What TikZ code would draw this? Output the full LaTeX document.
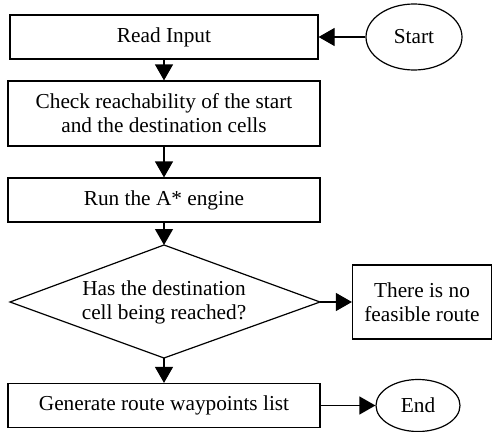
\documentclass[tikz,border=0pt]{standalone}
\usepackage{fontspec}
\setmainfont{Liberation Serif}
\usetikzlibrary{shapes.geometric,arrows.meta,positioning}
\begin{document}
\begin{tikzpicture}[x=1pt,y=-1pt,
  txt/.style={font=\fontsize{21.3}{24}\selectfont, align=center},
  boxnode/.style={draw, line width=1.2pt, inner sep=0pt, txt},
  oval/.style={draw, ellipse, line width=1.2pt, inner sep=0pt, txt},
  arr/.style={line width=1.2pt, -{Triangle[length=16pt,width=18pt]}}]
\useasboundingbox (0,0) rectangle (492,431);
\node[boxnode, minimum width=308pt, minimum height=44pt] (read) at (164,37) {Read Input};
\node[oval, minimum width=96pt, minimum height=66pt] (start) at (414,37) {Start};
\node[boxnode, minimum width=312pt, minimum height=65pt] (check) at (164,113.5) {Check reachability of the start\\and the destination cells};
\node[boxnode, minimum width=312pt, minimum height=44pt] (run) at (164,200) {Run the A* engine};
\coordinate (dt) at (164,245);
\coordinate (db) at (164,358);
\coordinate (dl) at (10,302);
\coordinate (dr) at (320,302);
\draw[line width=1.2pt] (dt) -- (dr) -- (db) -- (dl) -- cycle;
\node[txt] (q) at (164,302) {Has the destination\\cell being reached?};
\node[boxnode, minimum width=139pt, minimum height=74pt] (nofeas) at (422,302) {There is no\\feasible route};
\node[boxnode, minimum width=312pt, minimum height=44pt] (gen) at (164,405.5) {Generate route waypoints list};
\node[oval, minimum width=84pt, minimum height=52pt] (end) at (418,405.5) {End};
\draw[arr] (start) -- (read);
\draw[arr] (read) -- (check);
\draw[arr] (check) -- (run);
\draw[arr] (run) -- (dt);
\draw[arr] (db) -- (gen);
\draw[arr] (dr) -- (nofeas);
\draw[arr] (gen) -- (end);
\end{tikzpicture}
\end{document}
